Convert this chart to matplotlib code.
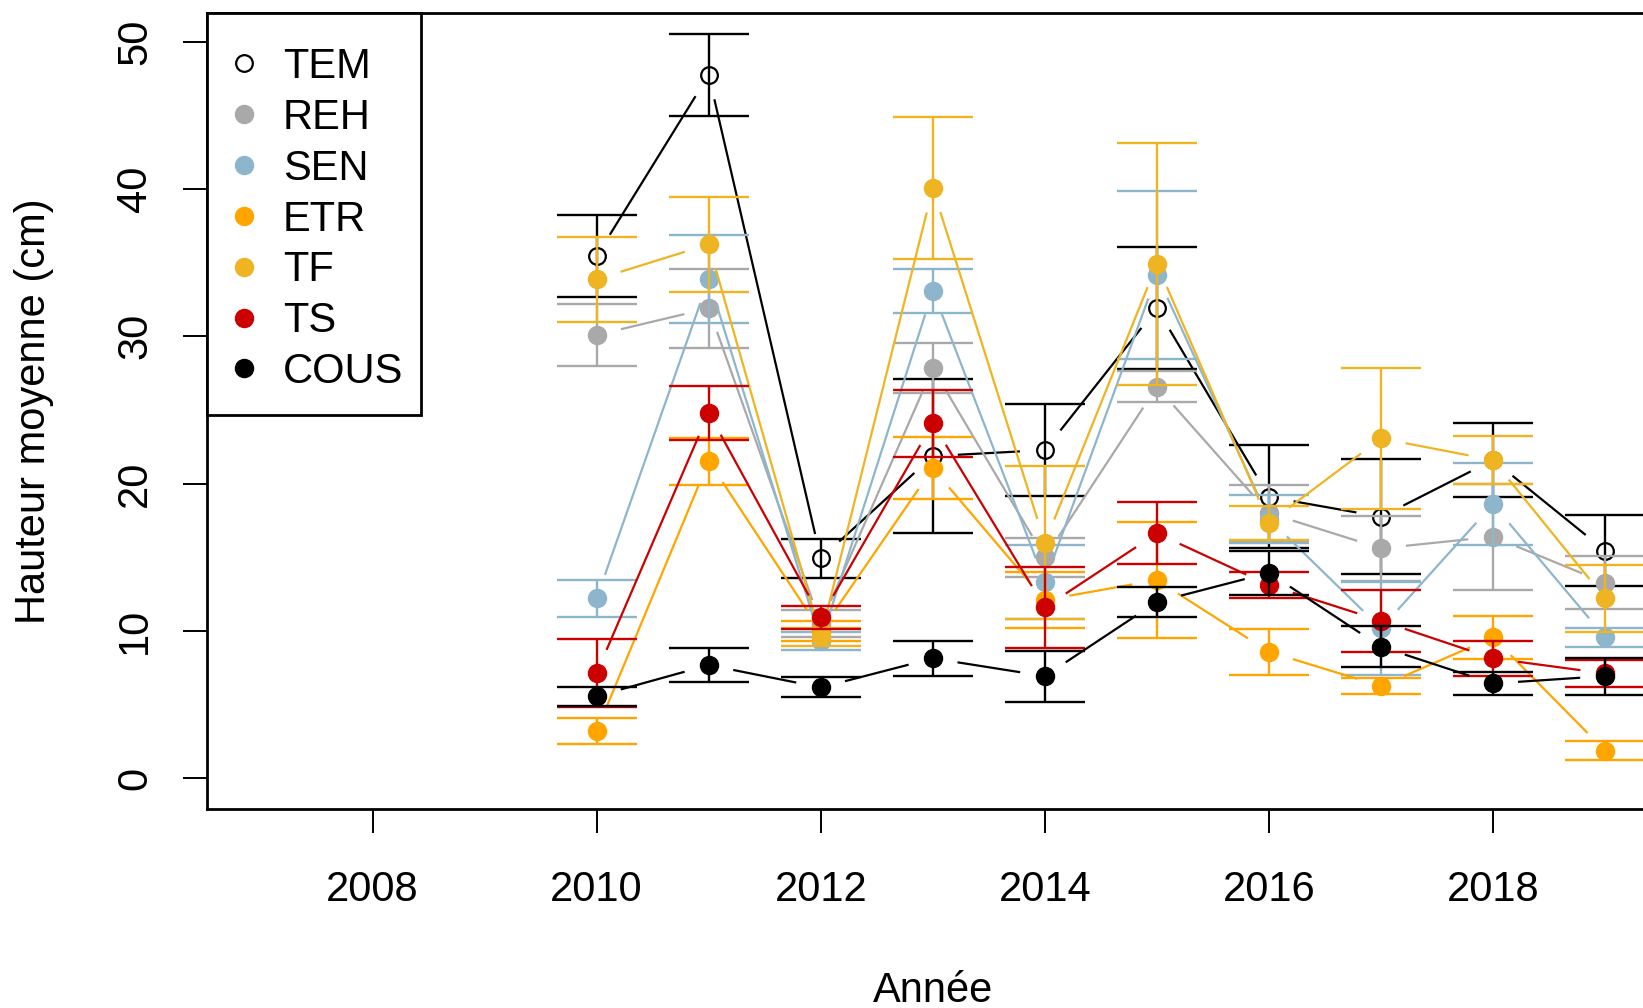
import numpy as np
import matplotlib
matplotlib.use('Agg')
import matplotlib.pyplot as plt
from matplotlib.lines import Line2D
from matplotlib.patches import Rectangle

plt.rcParams['font.family'] = ['Liberation Sans', 'DejaVu Sans']

years = [2010, 2011, 2012, 2013, 2014, 2015, 2016, 2017, 2018, 2019]

# mean height (cm) and error per treatment
tem = [35.45, 47.74, 14.93, 21.87, 22.28, 31.9, 19.1, 17.75, 21.6, 15.45]
tem_err = [2.8, 2.8, 1.3, 5.2, 3.1, 4.13, 3.5, 3.9, 2.5, 2.4]
reh = [30.09, 31.9, 10.5, 27.83, 14.99, 26.58, 18.0, 15.61, 16.4, 13.27]
reh_err = [2.1, 2.7, 0.9, 1.7, 1.35, 1.05, 1.9, 2.2, 3.6, 1.8]
sen = [12.21, 33.87, 9.3, 33.1, 13.34, 34.16, 17.6, 10.18, 18.61, 9.57]
sen_err = [1.25, 3.0, 0.6, 1.5, 2.5, 5.7, 1.6, 3.17, 2.8, 0.65]
etr = [3.23, 21.53, 10.0, 21.04, 12.1, 13.46, 8.59, 6.26, 9.57, 1.87]
etr_err = [0.9, 1.6, 0.7, 2.1, 1.9, 3.95, 1.55, 0.53, 1.47, 0.65]
tf = [33.87, 36.24, 9.6, 40.05, 15.99, 34.91, 17.35, 23.07, 21.6, 12.21]
tf_err = [2.9, 3.2, 0.6, 4.8, 5.2, 8.2, 1.15, 4.8, 1.65, 2.25]
ts = [7.16, 24.81, 10.92, 24.09, 11.6, 16.63, 13.12, 10.69, 8.14, 7.12]
ts_err = [2.3, 1.85, 0.8, 2.28, 2.77, 2.1, 0.87, 2.1, 1.2, 0.9]
cous = [5.58, 7.69, 6.17, 8.14, 6.94, 11.98, 13.95, 8.93, 6.44, 6.94]
cous_err = [0.65, 1.15, 0.68, 1.2, 1.73, 1.0, 1.5, 1.4, 0.8, 1.25]

names = ['TEM', 'REH', 'SEN', 'ETR', 'TF', 'TS', 'COUS']
means = [tem, reh, sen, etr, tf, ts, cous]
errs = [tem_err, reh_err, sen_err, etr_err, tf_err, ts_err, cous_err]
colors = ['black', '#A9A9A9', '#8DB6CD', '#FFA500', '#EEB422', '#CD0000', 'black']

xticks = [2008, 2010, 2012, 2014, 2016, 2018]
yticks = [0, 10, 20, 30, 40, 50]

fig = plt.figure(figsize=(16.43, 10.08), dpi=100)
ax = fig.add_axes([0.1258, 0.1974, 0.8839, 0.7894])
ax.set_xlim(2006.52, 2019.48)
ax.set_ylim(-2.08, 51.92)


def gapped(xs, ys, gap=25):
    # R type="b": segments between points, with a gap around each point
    pts = ax.transData.transform(np.column_stack([xs, ys]))
    inv = ax.transData.inverted()
    segs = []
    for p0, p1 in zip(pts[:-1], pts[1:]):
        d = p1 - p0
        L = np.hypot(d[0], d[1])
        if L <= 2 * gap:
            continue
        u = d / L
        segs.append(inv.transform(np.array([p0 + u * gap, p1 - u * gap])))
    return segs


for name, m, e, c in zip(names, means, errs, colors):
    ax.errorbar(years, m, yerr=e, fmt='none', ecolor=c, elinewidth=1.7,
                capsize=29, capthick=1.7)
    for s in gapped(years, m):
        ax.plot(s[:, 0], s[:, 1], color=c, lw=1.6, solid_capstyle='butt')
    if name == 'TEM':
        ax.plot(years, m, 'o', ls='none', mfc='none', mec=c, mew=1.6, ms=12)
    else:
        ax.plot(years, m, 'o', ls='none', color=c, ms=13)

ax.set_xticks(xticks)
ax.set_yticks(yticks)
ax.tick_params(axis='both', labelsize=30, length=17, width=1.4, direction='out')
ax.tick_params(axis='x', pad=27)
ax.tick_params(axis='y', pad=20)
for lab in ax.get_yticklabels():
    lab.set_rotation(90)
    lab.set_va('center')
for sp in ax.spines.values():
    sp.set_linewidth(2)

ax.set_xlabel('Année', fontsize=30, va='center')
ax.xaxis.set_label_coords(0.5, -0.229)
ax.set_ylabel('Hauteur moyenne (cm)', fontsize=30, va='center')
ax.yaxis.set_label_coords(-0.119, 0.5)

handles = []
for name, c in zip(names, colors):
    if name == 'TEM':
        h = Line2D([], [], marker='o', ls='none', mfc='none', mec=c, mew=1.6, ms=12)
    else:
        h = Line2D([], [], marker='o', ls='none', color=c, ms=13)
    handles.append(h)
leg = ax.legend(handles, names, loc='upper left', bbox_to_anchor=(0, 1),
                borderaxespad=0, fontsize=30, frameon=False,
                borderpad=0.81, handlelength=0.15, handletextpad=0.87,
                labelspacing=0.26)
# legend box drawn separately (R-style, tighter on the right)
ax.add_patch(Rectangle((0, 0.4952), 0.1476, 0.5048, transform=ax.transAxes,
                       fill=True, facecolor='white', edgecolor='black',
                       lw=2, zorder=4.9, clip_on=False))

fig.savefig('out.png', dpi=100)
